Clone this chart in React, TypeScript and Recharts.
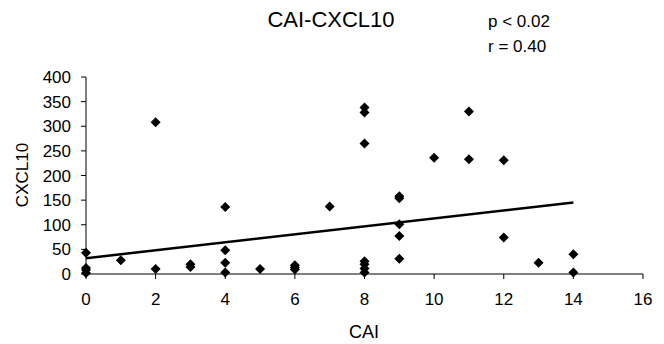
import { ScatterChart, Scatter, XAxis, YAxis, ReferenceLine } from "recharts";

const caiValues = [
  0, 0, 0, 0, 1, 2, 2, 3, 3, 4, 4, 4, 4, 5, 6, 6, 6, 7, 8, 8, 8, 8, 8, 8, 8,
  9, 9, 9, 9, 9, 10, 11, 11, 12, 12, 13, 14, 14,
];
const cxcl10Values = [
  43, 12, 8, 2, 28, 308, 10, 20, 14, 136, 48, 23, 3, 10, 18, 13, 9, 137, 338,
  328, 265, 26, 20, 11, 3, 158, 154, 101, 77, 31, 236, 330, 233, 231, 74, 23,
  40, 3,
];
const trendLine = [
  { x: 0, y: 32 },
  { x: 14, y: 145 },
];
const xTicks = [0, 2, 4, 6, 8, 10, 12, 14, 16];
const yTicks = [0, 50, 100, 150, 200, 250, 300, 350, 400];

const points = caiValues.map((x, i) => ({ x, y: cxcl10Values[i] }));

const font = "'Liberation Sans', Arial, sans-serif";

const Diamond = (props: any) => {
  const { cx, cy } = props;
  const r = 5;
  return (
    <polygon
      points={`${cx},${cy - r} ${cx + r},${cy} ${cx},${cy + r} ${cx - r},${cy}`}
      fill="#000"
    />
  );
};

const App = () => {
  return (
    <div style={{ position: "absolute", left: 0, top: 0, width: 664, height: 344, background: "#fff" }}>
      <ScatterChart
        width={664}
        height={344}
        margin={{ top: 77, right: 21, bottom: 30, left: 0 }}
      >
        <XAxis
          type="number"
          dataKey="x"
          domain={[0, 16]}
          ticks={xTicks}
          interval={0}
          height={40}
          stroke="#000"
          tickSize={5}
          tickMargin={14}
          tick={{ fill: "#000", fontSize: 17, fontFamily: font }}
        />
        <YAxis
          type="number"
          dataKey="y"
          domain={[0, 400]}
          ticks={yTicks}
          interval={0}
          width={86}
          stroke="#000"
          tickSize={5}
          tickMargin={10}
          tick={{ fill: "#000", fontSize: 17, fontFamily: font }}
        />
        <Scatter data={points} shape={Diamond} isAnimationActive={false} />
        <ReferenceLine
          segment={trendLine}
          stroke="#000"
          strokeWidth={2.5}
          ifOverflow="extendDomain"
        />
      </ScatterChart>
      <svg
        width={664}
        height={344}
        style={{ position: "absolute", left: 0, top: 0, pointerEvents: "none" }}
        fontFamily={font}
      >
        <text x={331} y={27} textAnchor="middle" fontSize={22} fill="#000">
          CAI-CXCL10
        </text>
        <text x={488} y={27} fontSize={17} fill="#000">
          p &lt; 0.02
        </text>
        <text x={488} y={52} fontSize={17} fill="#000">
          r = 0.40
        </text>
        <text x={364} y={338} textAnchor="middle" fontSize={18} fill="#000">
          CAI
        </text>
        <text
          x={28}
          y={175}
          textAnchor="middle"
          fontSize={17}
          fill="#000"
          transform="rotate(-90 28 175)"
        >
          CXCL10
        </text>
      </svg>
    </div>
  );
};

export default App;
